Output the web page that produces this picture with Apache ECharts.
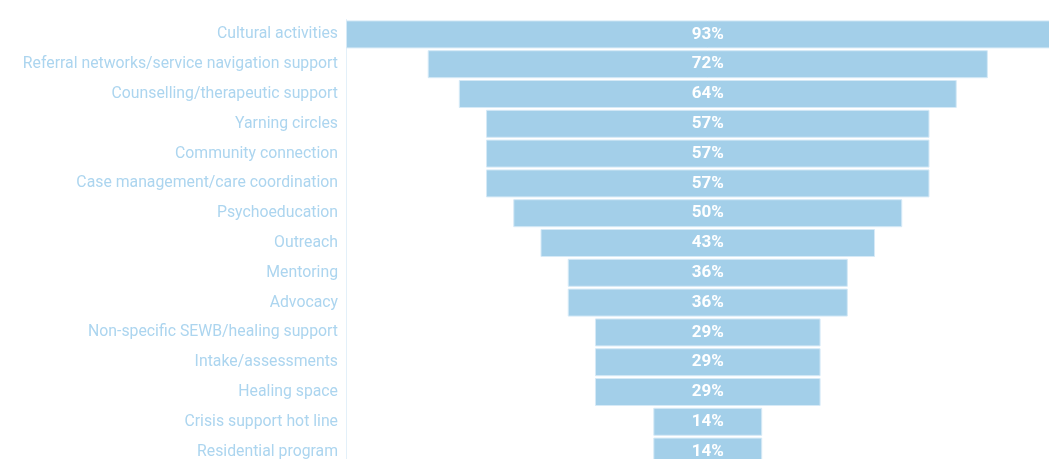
<!DOCTYPE html>
<html>
<head>
<meta charset="utf-8">
<script src="https://cdn.jsdelivr.net/npm/echarts@6/dist/echarts.min.js"></script>
<style>html,body{margin:0;padding:0;background:#fff;overflow:hidden;width:1049px;height:459px;}#c{width:1130px;height:470px;}</style>
</head>
<body>
<div id="c"></div>
<script>
const categories = [
  "Cultural activities",
  "Referral networks/service navigation support",
  "Counselling/therapeutic support",
  "Yarning circles",
  "Community connection",
  "Case management/care coordination",
  "Psychoeducation",
  "Outreach",
  "Mentoring",
  "Advocacy",
  "Non-specific SEWB/healing support",
  "Intake/assessments",
  "Healing space",
  "Crisis support hot line",
  "Residential program"
];
const values = [93, 72, 64, 57, 57, 57, 50, 43, 36, 36, 29, 29, 29, 14, 14];

const maxVal = Math.max(...values);
const offsets = values.map(v => (maxVal - v) / 2);

const chart = echarts.init(document.getElementById('c'), null, {renderer: 'canvas'});
chart.setOption({
  animation: false,
  grid: {left: 346, top: 19.5, width: 778, height: 447, containLabel: false},
  xAxis: {type: 'value', min: 0, max: 100, show: false},
  yAxis: {
    type: 'category', data: categories, inverse: true,
    axisLine: {show: true, lineStyle: {color: '#e3f0f9', width: 1}},
    axisTick: {show: false},
    axisLabel: {color: '#acd5ef', fontSize: 15.8, fontFamily: 'Roboto', margin: 8}
  },
  series: [
    {type: 'bar', stack: 'f', data: offsets, itemStyle: {color: 'transparent'}, barWidth: '94%', silent: true},
    {type: 'bar', stack: 'f', data: values, barWidth: '94%',
     itemStyle: {color: '#a3cfe9', borderColor: '#d6eaf7', borderWidth: 1},
     label: {show: true, position: 'inside', formatter: p => p.value + '%', color: '#ffffff',
             fontSize: 17, fontWeight: 'bold', fontFamily: 'Roboto'}}
  ]
});
</script>
</body>
</html>
